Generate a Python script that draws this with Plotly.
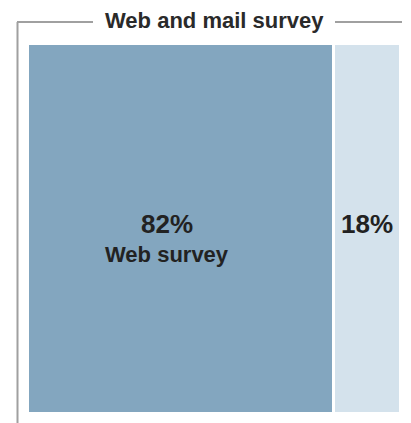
import plotly.graph_objects as go

title = "Web and mail survey"
categories = ["Web survey", "Mail survey"]
values = [82, 18]
labels = ["82%", "18%"]
sublabels = ["Web survey", ""]
colors = ["#83a6bf", "#d4e2ec"]

# page body has an 8px default margin; lay out in window pixels and offset
OFF = 8
W, H = 411 - OFF, 423 - OFF
ml, mr, mt, mb = 28 - OFF, 10, 44 - OFF, 9
pw, ph = W - ml - mr, H - mt - mb

fig = go.Figure()
for cat, v, c in zip(categories, values, colors):
    fig.add_trace(go.Bar(
        y=["s"], x=[v], orientation="h", name=cat,
        marker=dict(color=c, line=dict(color="white", width=3)),
        hoverinfo="skip", showlegend=False,
    ))

font_family = "Liberation Sans, Arial, sans-serif"
cum = 0
for i, (v, lab, sub) in enumerate(zip(values, labels, sublabels)):
    center = cum + v / 2
    shift = -14 if sub else 0
    fig.add_annotation(x=center, y=0, xref="x", yref="y", text=lab,
                       showarrow=False, xshift=shift, yshift=5,
                       font=dict(family=font_family, size=26, color="#222222", weight=700))
    if sub:
        fig.add_annotation(x=center, y=0, xref="x", yref="y", text=sub,
                           showarrow=False, xshift=shift, yshift=-25,
                           font=dict(family=font_family, size=22, color="#222222", weight=700))
    cum += v

def px_x(p):
    return (p - OFF - ml) / pw

def px_y(p):
    return (H - mb - (p - OFF)) / ph

line_col = "#a0a0a0"
fig.add_shape(type="line", xref="paper", yref="paper",
              x0=px_x(17.5), x1=px_x(17.5), y0=px_y(22), y1=px_y(424),
              line=dict(color=line_col, width=2))
fig.add_shape(type="line", xref="paper", yref="paper",
              x0=px_x(17), x1=px_x(93), y0=px_y(22), y1=px_y(22),
              line=dict(color=line_col, width=2))
fig.add_shape(type="line", xref="paper", yref="paper",
              x0=px_x(335), x1=px_x(402), y0=px_y(22), y1=px_y(22),
              line=dict(color=line_col, width=2))
fig.add_annotation(x=px_x(214), y=px_y(21), xref="paper", yref="paper",
                   text=title, showarrow=False, xanchor="center", yanchor="middle",
                   font=dict(family=font_family, size=22, color="#2a2a2a", weight=700))

fig.update_layout(
    width=W, height=H, barmode="stack", bargap=0,
    margin=dict(l=ml, r=mr, t=mt, b=mb, autoexpand=False),
    paper_bgcolor="white", plot_bgcolor="white",
    xaxis=dict(range=[0, 100], visible=False, fixedrange=True),
    yaxis=dict(visible=False, fixedrange=True),
)
fig.write_html("out.html")
